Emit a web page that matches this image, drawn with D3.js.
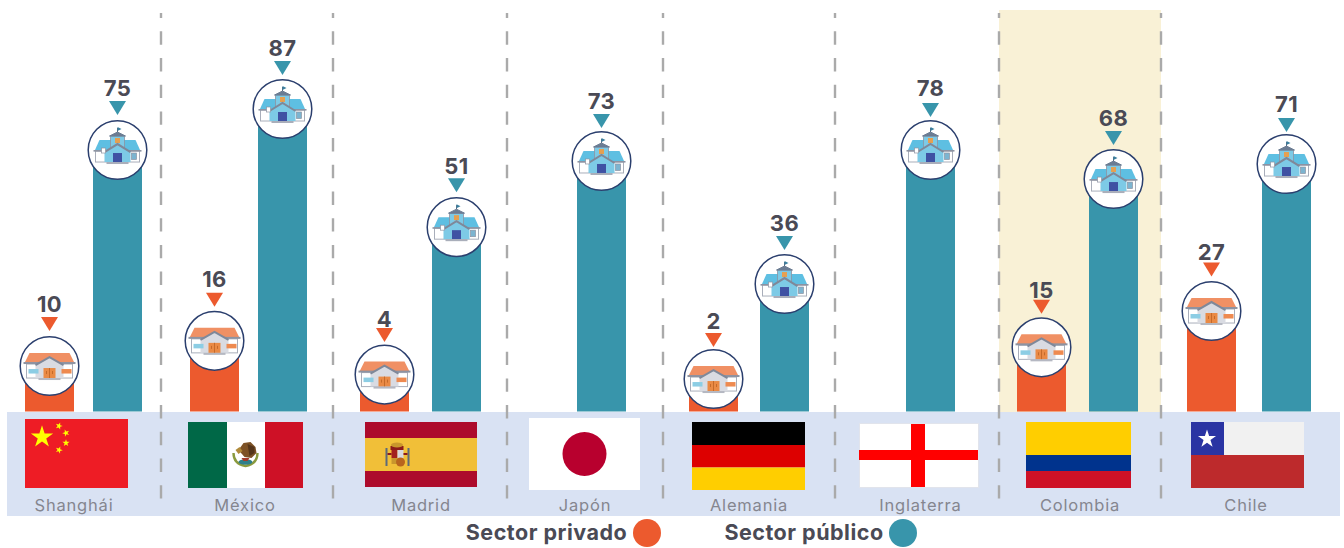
<!DOCTYPE html>
<html><head><meta charset="utf-8">
<script src="https://cdn.jsdelivr.net/npm/d3@7/dist/d3.min.js"></script>
<style>html,body{margin:0;padding:0;background:#fff}svg{display:block}text{font-family:Inter,"Open Sans",sans-serif}</style>
</head><body><div id="c"></div>
<script>
// DATA
const cities = ["Shanghái","México","Madrid","Japón","Alemania","Inglaterra","Colombia","Chile"];
const privado = [10,16,4,null,2,null,15,27];
const publico = [75,87,51,73,36,78,68,71];
const seriesNames = ["Sector privado","Sector público"];

// LAYOUT
const W=1344,H=548,base=411.5;
const privX=[25,190,360,null,689,null,1017,1187];
const pubX=[93,258,432,577,760,906,1089,1262];
const cityX=[74,245,421,585,749,920.5,1080,1246];
const sepX=[161,333,507,663,835,999,1161];
const privShift=[10.7,15,23,0,25.5,0,12,6.6], pubShift=[0.7,0,7,-3.3,2.3,-9.7,-4,0.6];
const privTri=[35,34,32.5,0,32,0,33.5,34.5], pubTri=[35,34,35,33,34,33,34,32];
const privLab=[12,13,9,0,11,0,9,10], pubLab=[12,12,12,12,12,14,12,13];
const ORANGE="#ec5a2e",TEAL="#3895ab",BAND="#d9e2f3",TXT="#4a4a55",CITY="#85868f";

const y=d3.scaleLinear().domain([0,87]).range([base,109]);
const bw=49;
const svg=d3.select("#c").append("svg").attr("width",W).attr("height",H);

svg.append("rect").attr("x",999).attr("y",10).attr("width",162).attr("height",402).attr("fill","#f9f1d6");
svg.append("rect").attr("x",7).attr("y",412).attr("width",1333).attr("height",104).attr("fill",BAND);

function flag(x,y0,w,h,parts){const g=svg.append("g").attr("transform",`translate(${x},${y0})`);parts(g,w,h);return g;}
const R=(g,x,y0,w,h,f)=>g.append("rect").attr("x",x).attr("y",y0).attr("width",w).attr("height",h).attr("fill",f);
const star=(g,cx,cy,r,f,rot=0)=>g.append("path").attr("d",d3.symbol(d3.symbolStar,r*r*1.4)()).attr("transform",`translate(${cx},${cy}) rotate(${rot})`).attr("fill",f);

flag(25,419,103,69,(g,w,h)=>{R(g,0,0,w,h,"#ee1c25");star(g,17,18,10.5,"#ffff00");
  [[34,7,18],[41,14,-20],[41,24,0],[34,31,20]].forEach(d=>star(g,d[0],d[1],3.4,"#ffff00",d[2]));});
flag(188,422,115,66,(g,w,h)=>{R(g,0,0,39,h,"#006847");R(g,39,0,38,h,"#fff");R(g,77,0,38,h,"#ce1126");
  const c=g.append("g").attr("transform","translate(57.5,33)");
  c.append("path").attr("d","M-12,-2Q-12,9 0,11Q12,9 12,-2").attr("fill","none").attr("stroke","#8a9a3e").attr("stroke-width",2.4);
  c.append("path").attr("d","M-7,-5L-2,-12L5,-13L10,-8L11,-2L6,3L-1,2Z").attr("fill","#7d5226");
  c.append("path").attr("d","M2,-11L9,-8L9,-2L4,1Z").attr("fill","#54351a");
  c.append("path").attr("d","M-10,-5L-6,-8L-3,-4L-7,-1Z").attr("fill","#b08a3a");
  c.append("ellipse").attr("cx",0).attr("cy",7).attr("rx",7).attr("ry",2.8).attr("fill","#2f7f8a");
  c.append("path").attr("d","M-4,3H4L2,6H-2Z").attr("fill","#a33a2a");});
flag(365,422,112,65,(g,w,h)=>{R(g,0,0,w,h,"#ad0b2c");R(g,0,16,w,33,"#f1bf38");
  const c=g.append("g").attr("transform","translate(32.5,33)");
  R(c,-6,-5,6,8,"#a3211f");R(c,0,-5,6,8,"#d8d8e0");R(c,-6,3,6,6,"#c9962c");
  c.append("circle").attr("cx",3).attr("cy",7).attr("r",4.5).attr("fill","#b8641e");
  R(c,-7,-9,13,4,"#8c1a1a");c.append("ellipse").attr("cx",-0.5).attr("cy",-10).attr("rx",6).attr("ry",2.5).attr("fill","#c9962c");
  R(c,-12,-7,2,18,"#5c6a7a");R(c,10,-7,2,18,"#5c6a7a");R(c,-10,-2,4,2,"#8c1a1a");R(c,6,-2,4,2,"#8c1a1a");});
flag(529,418,111,72,(g,w,h)=>{R(g,0,0,w,h,"#fff");g.append("circle").attr("cx",55.5).attr("cy",36).attr("r",22).attr("fill","#b8002e");});
flag(692,422,113,68,(g,w,h)=>{R(g,0,0,w,23,"#000");R(g,0,23,w,22.5,"#dd0000");R(g,0,45.5,w,22.5,"#ffce00");});
flag(859,423,120,65,(g,w,h)=>{R(g,0,0,w,h,"#e1e4ec");R(g,1,1,w-2,h-2,"#fff");R(g,52,1,14,h-2,"#ff0000");R(g,0,27,w-1,10,"#ff0000");});
flag(1026,422,105,66,(g,w,h)=>{R(g,0,0,w,33,"#ffce00");R(g,0,33,w,16,"#00338d");R(g,0,49,w,17,"#ce1126");});
flag(1191,422,113,66,(g,w,h)=>{R(g,0,0,w,33,"#f1f1f1");R(g,0,0,33,33,"#2a34a3");R(g,0,33,w,33,"#bd2a2c");star(g,16,17,8.5,"#fff");});

// bars: each bar rises at least to the centre of its marker disc
const rows=cities.map((c,i)=>({c,i}));
const topOf=(v,s)=>Math.min(y(v),y(v)-s);
svg.selectAll(".bp").data(rows.filter(d=>privado[d.i]!=null)).join("rect").attr("class","bp")
  .attr("x",d=>privX[d.i]).attr("width",bw).attr("y",d=>topOf(privado[d.i],privShift[d.i])).attr("height",d=>base-topOf(privado[d.i],privShift[d.i])).attr("fill",ORANGE);
svg.selectAll(".bq").data(rows).join("rect").attr("class","bq")
  .attr("x",d=>pubX[d.i]).attr("width",bw).attr("y",d=>y(publico[d.i])).attr("height",d=>base-y(publico[d.i])).attr("fill",TEAL);

// separators
svg.selectAll(".sep").data(sepX).join("line").attr("class","sep").attr("x1",d=>d).attr("x2",d=>d).attr("y1",13).attr("y2",499)
  .attr("stroke","#aaaaaa").attr("stroke-width",2.4).attr("stroke-dasharray","13.4 13.3").attr("stroke-dashoffset",8.4);

// city labels
svg.selectAll(".city").data(cities).join("text").attr("class","city").attr("x",(d,i)=>cityX[i]).attr("y",511)
  .attr("text-anchor","middle").attr("font-size",16.5).attr("letter-spacing",0.8).attr("fill",CITY).text(d=>d);

function house(g){
  g.append("path").attr("d","M-20,-13H20L25,-3H-25Z").attr("fill","#f09064");
  g.append("rect").attr("x",-23).attr("y",-2).attr("width",46).attr("height",14).attr("fill","#fff").attr("stroke","#a9aeba").attr("stroke-width",1);
  g.append("rect").attr("x",-26).attr("y",-4).attr("width",52).attr("height",2).attr("fill","#8d93a2");
  g.append("path").attr("d","M-14,-1L0,-9L14,-1V12H-14Z").attr("fill","#d9dbe2");
  g.append("path").attr("d","M-14,-1L0,-9L14,-1").attr("fill","none").attr("stroke","#7f8899").attr("stroke-width",2);
  g.append("rect").attr("x",-6).attr("y",2).attr("width",12).attr("height",10).attr("fill","#ea8a45");
  g.append("path").attr("d","M0,2V12M-3,5V8M3,5V8").attr("stroke","#c56a2a").attr("stroke-width",1);
  g.append("rect").attr("x",-21).attr("y",3).attr("width",10).attr("height",4.5).attr("fill","#8ccde4");
  g.append("rect").attr("x",12).attr("y",3).attr("width",10).attr("height",4.5).attr("fill","#ee8a50");
  g.append("rect").attr("x",-11).attr("y",12).attr("width",22).attr("height",2).attr("fill","#b5b8c2");
}
function school(g){
  g.append("path").attr("d","M-18,-10H18L23,1H-23Z").attr("fill","#5ebfe2");
  g.append("rect").attr("x",-22).attr("y",1).attr("width",44).attr("height",11).attr("fill","#fff").attr("stroke","#a9aeba").attr("stroke-width",1);
  g.append("rect").attr("x",-24).attr("y",0).attr("width",48).attr("height",1.6).attr("fill","#8d93a2");
  g.append("rect").attr("x",-7).attr("y",-14).attr("width",14).attr("height",12).attr("fill","#7dcae6").attr("stroke","#8d93a2").attr("stroke-width",.8);
  g.append("path").attr("d","M-8,-14L0,-18L8,-14Z").attr("fill","#6b7c93").attr("stroke","#6b7c93");
  g.append("path").attr("d","M0,-18V-22").attr("stroke","#5a6a80").attr("stroke-width",1);
  g.append("path").attr("d","M0,-23L4,-21L0,-19Z").attr("fill","#3a7f9e");
  g.append("rect").attr("x",-2.5).attr("y",-12).attr("width",5).attr("height",5).attr("fill","#e6a050");
  g.append("path").attr("d","M-13,2L0,-6L13,2V12H-13Z").attr("fill","#7dcae6");
  g.append("path").attr("d","M-13,2L0,-6L13,2").attr("fill","none").attr("stroke","#7f8899").attr("stroke-width",2);
  g.append("rect").attr("x",-4.5).attr("y",3).attr("width",9).attr("height",9).attr("fill","#3f51a3");
  g.append("rect").attr("x",14).attr("y",3).attr("width",5).attr("height",6.5).attr("fill","#7cb4d0").attr("stroke","#8d93a2").attr("stroke-width",.7);
  g.append("rect").attr("x",-16).attr("y",-2).attr("width",4).attr("height",5).attr("fill","#fff").attr("stroke","#8d93a2").attr("stroke-width",.7);
  g.append("rect").attr("x",-11).attr("y",12).attr("width",22).attr("height",2).attr("fill","#a9aeba");
}
function markers(vals,xs,shift,tri,lab,col,icon){
  rows.filter(d=>vals[d.i]!=null).forEach(d=>{
    const i=d.i,cx=xs[i]+bw/2,cy=y(vals[i])-shift[i];
    const g=svg.append("g").attr("transform",`translate(${cx},${cy})`);
    g.append("circle").attr("r",29.3).attr("fill","#fff").attr("stroke","#2b3f6e").attr("stroke-width",1.5);
    icon(g);
    const b=-tri[i],t=b-14;
    g.append("path").attr("d",`M-8.5,${t}H8.5L0,${b}Z`).attr("fill",col);
    g.append("text").attr("y",t-lab[i]-0.5).attr("dy","0.36em").attr("text-anchor","middle").attr("font-size",22).attr("font-weight",700).attr("letter-spacing",0.4).attr("fill",TXT).text(vals[i]);
  });
}
markers(privado,privX,privShift,privTri,privLab,ORANGE,house);
markers(publico,pubX,pubShift,pubTri,pubLab,TEAL,school);

// legend
const leg=[{t:seriesNames[0],x:546.5,cx:647,c:ORANGE},{t:seriesNames[1],x:804,cx:903,c:TEAL}];
leg.forEach(l=>{
  svg.append("text").attr("x",l.x).attr("y",539.5).attr("text-anchor","middle").attr("font-size",21.5).attr("font-weight",700).attr("letter-spacing",0.5).attr("fill",TXT).text(l.t);
  svg.append("circle").attr("cx",l.cx).attr("cy",533).attr("r",14).attr("fill",l.c);
});
</script></body></html>
